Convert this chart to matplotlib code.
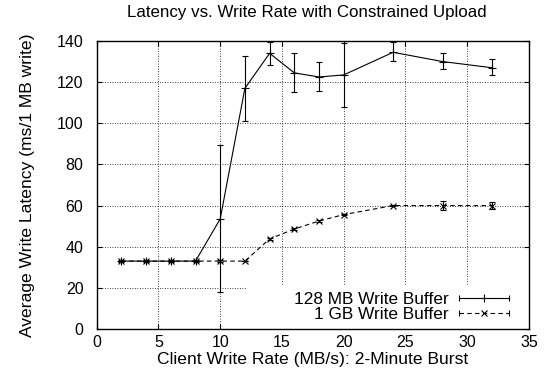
import numpy as np
import matplotlib
matplotlib.use("Agg")
import matplotlib.pyplot as plt
from matplotlib.lines import Line2D
from matplotlib.patches import Rectangle
from matplotlib.legend_handler import HandlerLine2D

plt.rcParams['font.family'] = ['Liberation Sans', 'DejaVu Sans']
plt.rcParams['font.size'] = 12.6

# 128 MB write buffer
rate_128 = [2, 4, 6, 8, 10, 12, 14, 16, 18, 20, 24, 28, 32]
lat_128 = [33, 33, 33, 33, 53.5, 117, 134, 124.5, 122.5, 123.5, 134.5, 130, 127]
lo_128 = [33, 33, 33, 33, 18, 101, 128.5, 115, 115.5, 108, 130.5, 126.5, 123.5]
hi_128 = [33, 33, 33, 33, 89.5, 132.5, 139.5, 134, 130, 139, 139.5, 134, 131]

# 1 GB write buffer
rate_1g = [2, 4, 6, 8, 10, 12, 14, 16, 18, 20, 24, 28, 32]
lat_1g = [33, 33, 33, 33, 33, 33, 43.8, 48.6, 52.5, 55.6, 60, 60, 60]
lo_1g = [32.5, 32.5, 32.5, 32.5, 32.7, 33, 43.5, 48.3, 52.2, 55.3, 59.7, 58, 58.2]
hi_1g = [33.5, 33.5, 33.5, 33.5, 33.3, 33, 44.1, 48.9, 52.8, 55.9, 60.3, 62, 61.8]


class CapHandler(HandlerLine2D):
    # gnuplot-style key sample: |---+---|
    def create_artists(self, legend, orig_handle, xdescent, ydescent,
                       width, height, fontsize, trans):
        arts = super().create_artists(legend, orig_handle, xdescent, ydescent,
                                      width, height, fontsize, trans)
        y = height / 2.0 - ydescent
        caps = Line2D([-xdescent, -xdescent + width], [y, y], marker='|',
                      linestyle='none', color='black', markersize=4,
                      markeredgewidth=0.8)
        caps.set_transform(trans)
        return arts + [caps]


fig = plt.figure(figsize=(5.47, 3.83), dpi=100)
ax = fig.add_axes([0.1768, 0.141, 0.7902, 0.752])
ax.set_axisbelow(True)

err_128 = [np.array(lat_128) - np.array(lo_128), np.array(hi_128) - np.array(lat_128)]
err_1g = [np.array(lat_1g) - np.array(lo_1g), np.array(hi_1g) - np.array(lat_1g)]

dash = (0, (4, 3))
ax.errorbar(rate_128, lat_128, yerr=err_128, color='black', linestyle='-',
            linewidth=0.8, marker='+', markersize=6, markeredgewidth=0.8,
            elinewidth=0.8, capsize=2.5, capthick=0.8, zorder=3)
ax.errorbar(rate_1g, lat_1g, yerr=err_1g, color='black', linestyle=dash,
            linewidth=0.8, marker='x', markersize=4.5, markeredgewidth=0.8,
            elinewidth=0.8, capsize=2.5, capthick=0.8, zorder=3)

ax.set_xlim(0, 35)
ax.set_ylim(0, 140)
ax.set_xticks(np.arange(0, 36, 5))
ax.set_yticks(np.arange(0, 141, 20))
ax.tick_params(direction='in', top=True, right=True, length=3.6, width=0.8,
               labelsize=11.5)
ax.tick_params(axis='x', pad=4.0)
ax.tick_params(axis='y', pad=9.6)
ax.grid(True, color='black', linestyle=(0, (1, 2)), linewidth=0.6)
for s in ax.spines.values():
    s.set_linewidth(1)

# opaque key box hides the grid behind the legend
ax.add_patch(Rectangle((0.348, 0), 0.652, 0.149, transform=ax.transAxes,
                       facecolor='white', edgecolor='none', zorder=1))

ax.set_title("Latency vs. Write Rate with Constrained Upload", pad=17,
             fontsize=12.2, x=0.4865)
ax.set_xlabel("Client Write Rate (MB/s): 2-Minute Burst", labelpad=1.5)
ax.set_ylabel("Average Write Latency (ms/1 MB write)", labelpad=15.5)

h1 = Line2D([], [], color='black', linestyle='-', linewidth=0.8, marker='+',
            markersize=6, markeredgewidth=0.8)
h2 = Line2D([], [], color='black', linestyle=dash, linewidth=0.8, marker='x',
            markersize=4.5, markeredgewidth=0.8)
leg = ax.legend([h1, h2], ["128 MB Write Buffer", "1 GB Write Buffer"],
                loc='lower right', markerfirst=False, frameon=False,
                handler_map={Line2D: CapHandler(numpoints=1)},
                handlelength=2.9, handletextpad=0.62, labelspacing=0.0,
                borderpad=0.0, borderaxespad=0.0, fontsize=12.4,
                bbox_to_anchor=(509 / 547, 1 - 322 / 383), bbox_transform=fig.transFigure)
leg.set_zorder(5)

fig.savefig("out.png", dpi=100)
